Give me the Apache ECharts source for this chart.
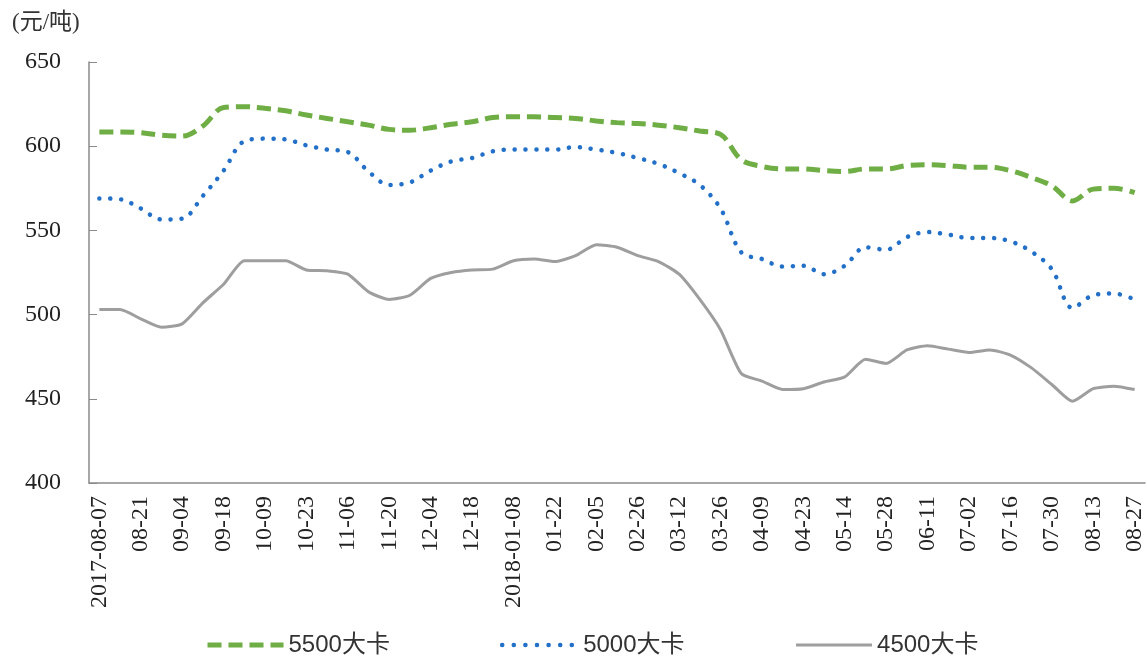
<!DOCTYPE html>
<html>
<head>
<meta charset="utf-8">
<script src="https://cdn.jsdelivr.net/npm/echarts@6/dist/echarts.min.js"></script>
<style>
html,body{margin:0;padding:0;background:#fff;}
#chart{width:1147px;height:656px;}
</style>
</head>
<body>
<div id="chart"></div>
<script>
const categories = [
  "2017-08-07","08-14","08-21","08-28","09-04","09-11","09-18","09-25","10-09","10-16",
  "10-23","10-30","11-06","11-13","11-20","11-27","12-04","12-11","12-18","12-25",
  "2018-01-08","01-15","01-22","01-29","02-05","02-12","02-26","03-05","03-12","03-19",
  "03-26","04-02","04-09","04-16","04-23","05-07","05-14","05-21","05-28","06-04",
  "06-11","06-25","07-02","07-09","07-16","07-23","07-30","08-06","08-13","08-20","08-27"
];
const s5500 = [608.5,608.5,608,606.5,606,612,623,623.5,622.5,621,
  618.5,616.5,614.5,612.5,610,609.5,611,613,614.5,617,
  617.5,617.5,617,616.5,615,614,613.5,612.5,611,609,
  607,592,588,586.5,586.5,585.5,585,586.5,586.5,588.5,
  589,588.5,587.5,587.5,585.5,581.5,576.5,567.5,574.5,575,572.5];
const s5000 = [569,568.5,563,556.5,557,570.5,585.5,603,604.5,604,
  600.5,598,596.5,585,577,578.5,585.5,591,593,597,
  598,598,598,599.5,598,596,593,589.5,584,577,
  563,537,533,528.5,529,524,529,540,538.5,546,
  549,547.5,545.5,545.5,543.5,537.5,527,504,511.5,512.5,509];
const s4500 = [503,503,497.5,492.5,494.5,507,518,532,532,532,
  526.5,526,524,513.5,509,511.5,521.5,525,526.5,527,
  532,533,531.5,535,541.5,540,535,531.5,524,509,
  491,465,460.5,455.5,456,460,463,473.5,471,479,
  481.5,479.5,477.5,479,476,468.5,458.5,448.5,456,457.5,455.5];
const seriesNames = ["5500大卡","5000大卡","4500大卡"];
const yTicks = {min:400, max:650, interval:50};

const serif = "'Liberation Serif','Times New Roman','Noto Sans CJK SC',serif";
const sans = "'Liberation Sans','Noto Sans CJK SC',sans-serif";

const chart = echarts.init(document.getElementById('chart'), null, {renderer:'canvas'});
chart.setOption({
  animation:false,
  backgroundColor:'#fff',
  title:{
    text:'(元/吨)', left:7, top:6,
    textStyle:{fontFamily:"'Liberation Serif','Noto Sans CJK SC',serif", fontSize:23, fontWeight:'normal', color:'#333'}
  },
  grid:{left:89, right:2, top:62, bottom:173, containLabel:false},
  legend:{
    left:200, top:628, itemWidth:76, itemHeight:14, itemGap:110,
    itemStyle:{opacity:0, color:'transparent', borderWidth:0},
    textStyle:{fontFamily:sans, fontSize:24, color:'#333'},
    data:[
      {name:seriesNames[0], lineStyle:{width:5, type:[14,7]}},
      {name:seriesNames[1], lineStyle:{width:4.5, type:[0.1,11.5], cap:'round'}},
      {name:seriesNames[2], lineStyle:{width:3}}
    ]
  },
  xAxis:{
    type:'category', data:categories, boundaryGap:true,
    axisLine:{lineStyle:{color:'#8a8a8a', width:1.5}},
    axisTick:{inside:true, length:6, interval:(i)=> i%2===1, lineStyle:{color:'#8a8a8a'}},
    axisLabel:{rotate:90, interval:1, margin:13, fontFamily:serif, fontSize:24, color:'#222'}
  },
  yAxis:{
    type:'value', min:yTicks.min, max:yTicks.max, interval:yTicks.interval,
    splitLine:{show:false},
    axisLine:{show:true, lineStyle:{color:'#8a8a8a', width:1.5}},
    axisTick:{show:true, inside:true, length:8, lineStyle:{color:'#8a8a8a'}},
    axisLabel:{margin:28, fontFamily:serif, fontSize:24, color:'#222'}
  },
  series:[
    {name:seriesNames[0], type:'line', data:s5500, symbol:'none', smooth:0.35,
     itemStyle:{color:'#6FAD45'},
     lineStyle:{color:'#6FAD45', width:5, type:[14,7]}},
    {name:seriesNames[1], type:'line', data:s5000, symbol:'none', smooth:0.35,
     itemStyle:{color:'#2370C8'},
     lineStyle:{color:'#2370C8', width:4.5, type:[0.1,10.8], cap:'round'}},
    {name:seriesNames[2], type:'line', data:s4500, symbol:'none', smooth:0.2,
     itemStyle:{color:'#9e9e9e'},
     lineStyle:{color:'#9e9e9e', width:3}}
  ]
});
</script>
</body>
</html>
